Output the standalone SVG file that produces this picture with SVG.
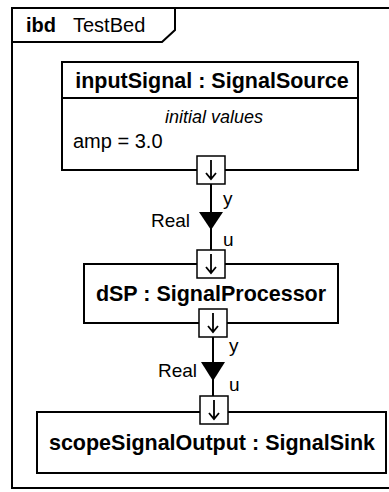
<svg xmlns="http://www.w3.org/2000/svg" width="389" height="492" viewBox="0 0 389 492">
<style>
.ln{fill:none;stroke:#000;stroke-width:2}
.box{fill:#fff;stroke:#000;stroke-width:2}
.t{font-family:"Liberation Sans",Arial,sans-serif;fill:#000}
.b{font-weight:bold}
.port{fill:#fff;stroke:#000;stroke-width:1.5}
.parr{fill:none;stroke:#000;stroke-width:1.8}
</style>
<defs>
<g id="portg">
<rect class="port" x="0" y="0" width="28" height="28"/>
<path class="parr" d="M14 4V23M9 17L14 23L19 17"/>
</g>
</defs>
<g id="frame">
<rect class="ln" x="12" y="8" width="390" height="480"/>
<path class="ln" d="M12 42H162L175 30V8"/>
<text class="t b" x="26" y="32" font-size="20">ibd</text>
<text class="t" x="73" y="32" font-size="20">TestBed</text>
</g>
<g id="connectors">
<line class="ln" x1="211" y1="184" x2="211" y2="250"/>
<polygon points="199,212 223,212 211,230" fill="#000"/>
<text class="t" x="223" y="205" font-size="19">y</text>
<text class="t" x="190" y="227" font-size="19" text-anchor="end">Real</text>
<text class="t" x="223" y="246" font-size="19">u</text>
<line class="ln" x1="213" y1="337" x2="213" y2="396"/>
<polygon points="201,362 225,362 213,381" fill="#000"/>
<text class="t" x="229" y="352" font-size="19">y</text>
<text class="t" x="197" y="377" font-size="19" text-anchor="end">Real</text>
<text class="t" x="229" y="391" font-size="19">u</text>
</g>
<g id="inputSignal">
<rect class="box" x="62" y="62" width="296" height="108"/>
<line class="ln" x1="62" y1="98" x2="358" y2="98"/>
<text class="t b" x="212" y="88" font-size="21.5" text-anchor="middle">inputSignal : SignalSource</text>
<text class="t" x="214" y="123" font-size="18" font-style="italic" text-anchor="middle">initial values</text>
<text class="t" x="73" y="148" font-size="20">amp = 3.0</text>
<use href="#portg" x="197" y="156"/>
</g>
<g id="dSP">
<rect class="box" x="84" y="264" width="254" height="59"/>
<text class="t b" x="211" y="301" font-size="21.5" text-anchor="middle">dSP : SignalProcessor</text>
<use href="#portg" x="197" y="250"/>
<use href="#portg" x="199" y="309"/>
</g>
<g id="scopeSignalOutput">
<rect class="box" x="37" y="412" width="349" height="61"/>
<text class="t b" x="212" y="450" font-size="21.5" text-anchor="middle">scopeSignalOutput : SignalSink</text>
<use href="#portg" x="200" y="396"/>
</g>
</svg>
